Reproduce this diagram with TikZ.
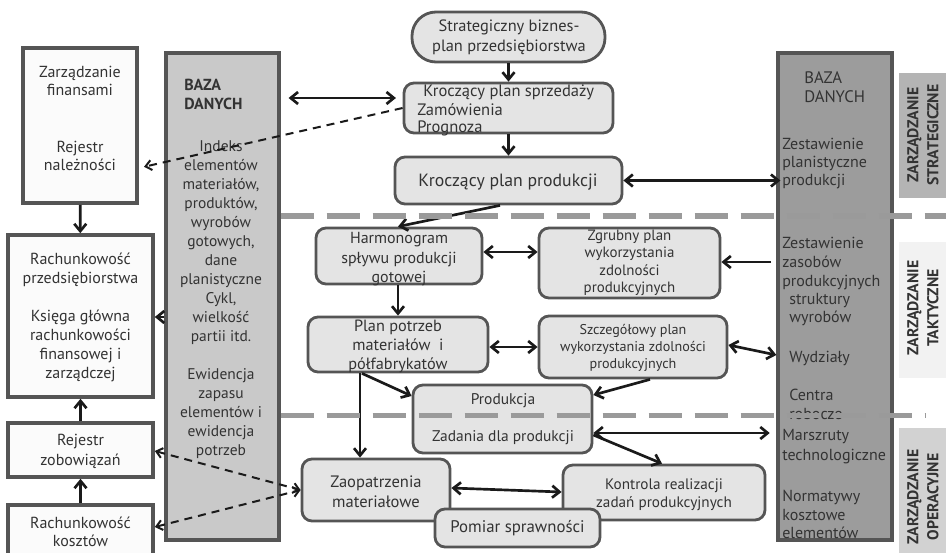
\documentclass[tikz,border=0pt]{standalone}
\usepackage{fontspec}
\setmainfont{PT Sans}
\usetikzlibrary{arrows.meta}
\definecolor{ink}{HTML}{333333}
\definecolor{edge}{HTML}{555555}
\definecolor{boxfill}{HTML}{E4E4E4}
\definecolor{paper}{HTML}{FBFBFB}
\definecolor{dbl}{HTML}{C9C9C9}
\definecolor{dbr}{HTML}{9C9C9C}
\definecolor{sep}{HTML}{9A9A9A}
\definecolor{lvlS}{HTML}{B4B4B4}
\definecolor{lvlT}{HTML}{F2F2F2}
\definecolor{lvlO}{HTML}{D2D2D2}
\definecolor{arrowink}{HTML}{1A1A1A}
\begin{document}
\begin{tikzpicture}[x=0.75pt,y=-0.75pt,
  sz/.style 2 args={minimum width=#1*0.75pt,minimum height=#2*0.75pt},
  fz/.style 2 args={font=\fontsize{#1}{#2}\selectfont},
  bfz/.style 2 args={font=\fontsize{#1}{#2}\selectfont\bfseries},
  cbox/.style={draw=edge,fill=boxfill,line width=2.1pt,rounded corners=7.5pt,inner sep=0pt},
  wbox/.style={draw=edge,fill=paper,line width=2.7pt,inner sep=0pt},
  dbase/.style={draw=edge,line width=2.4pt,inner sep=0pt},
  lvl/.style={inner sep=0pt},
  txt/.style={text=ink,inner sep=0pt,align=center},
  ltxt/.style={text=ink,inner sep=0pt,align=left,anchor=west},
  tip/.tip={Straight Barb[length=5.5pt,width=9pt]},
  dtip/.tip={Straight Barb[length=4.5pt,width=7.5pt]},
  arr/.style={draw=arrowink,line width=2pt,-tip},
  darr/.style={draw=arrowink,line width=2pt,tip-tip},
  dsh/.style={draw=arrowink,line width=1.5pt,dash pattern=on 6pt off 4.5pt},
  sepline/.style={draw=sep,line width=3.8pt,dash pattern=on 24.75pt off 9.75pt}]
\useasboundingbox (0,0) rectangle (946,553);
\fill[white] (0,0) rectangle (946,553);

% management level bands on the right
\node[lvl,fill=lvlS,sz={47}{125}] (lvS) at (922.5,135.5) {};
\node[lvl,fill=lvlT,sz={47}{136}] (lvT) at (922.5,310) {};
\node[lvl,fill=lvlO,sz={47}{128}] (lvO) at (922.5,492) {};
\node[txt,rotate=90,bfz={11.8pt}{15pt}] (lvSt) at (923,135) {ZARZĄDZANIE\\STRATEGICZNE};
\node[txt,rotate=90,bfz={11.8pt}{15pt}] (lvTt) at (923,308) {ZARZĄDZANIE\\TAKTYCZNE};
\node[txt,rotate=90,bfz={11.8pt}{15pt}] (lvOt) at (923,497) {ZARZĄDZANIE\\OPERACYJNE};

% accounting column
\node[wbox,sz={114}{155}] (fin) at (80,125.5) {};
\node[txt,fz={12pt}{13.5pt}] (finA) at (80,80.5) {Zarządzanie\\finansami};
\node[txt,fz={12pt}{13.5pt}] (finB) at (80,155.5) {Rejestr\\należności};
\node[wbox,sz={145}{162}] (rach) at (80.5,316) {};
\node[txt,fz={12pt}{14.25pt}] (racht) at (80.5,317) {Rachunkowość\\przedsiębiorstwa\\[14.25pt]Księga główna\\rachunkowości\\finansowej i\\zarządczej};
\node[wbox,sz={145}{54}] (rejz) at (80.5,450) {};
\node[txt,fz={12pt}{15pt}] (rejzt) at (80.5,451) {Rejestr\\zobowiązań};
\node[wbox,sz={145}{56}] (rachk) at (80.5,533) {};
\node[txt,fz={12pt}{13.5pt}] (rachkt) at (80.5,532) {Rachunkowość\\kosztów};

% databases
\node[dbase,fill=dbl,sz={113}{487}] (bazaL) at (222.5,296.5) {};
\node[ltxt,bfz={12pt}{14.25pt}] (bazaLh) at (184,94.5) {BAZA\\DANYCH};
\node[txt,fz={11.6pt}{14.25pt}] (bazaLt) at (221,300) {Indeks\\elementów\\materiałów,\\produktów,\\wyrobów\\gotowych,\\dane\\planistyczne\\Cykl,\\wielkość\\partii itd.\\[14.25pt]Ewidencja\\zapasu\\elementów i\\ewidencja\\potrzeb};

\node[dbase,fill=dbr,sz={114}{487}] (bazaR) at (835,296.5) {};
\node[ltxt,fz={12.5pt}{14.25pt}] (bazaRh) at (804,87.5) {BAZA\\DANYCH};
\node[ltxt,fz={12pt}{13.5pt}] (bazaR1) at (782,164) {Zestawienie\\planistyczne\\produkcji};
\node[ltxt,fz={12pt}{14.25pt}] (bazaR2) at (782,264) {Zestawienie\\zasobów\\produkcyjnych};
\node[ltxt,fz={12pt}{13.5pt}] (bazaR3) at (789,310) {struktury\\wyrobów};
\node[ltxt,fz={12pt}{14.25pt}] (bazaR4) at (789,358) {Wydziały};
\node[ltxt,fz={12pt}{14.25pt}] (bazaR5) at (789,404.5) {Centra\\robocze};
\node[ltxt,fz={12pt}{15pt}] (bazaR6) at (782,447) {Marszruty\\technologiczne};
\node[ltxt,fz={12pt}{13.875pt}] (bazaR7) at (782,514.5) {Normatywy\\kosztowe\\elementów};

% planning chain
\node[cbox,rounded corners=18pt,sz={193}{50}] (strat) at (508.5,37) {};
\node[txt,fz={12.3pt}{15pt}] (stratt) at (509,37) {Strategiczny biznes-\\plan przedsiębiorstwa};
\node[cbox,sz={209}{50}] (sprzed) at (508.5,108) {};
\node[ltxt,fz={12.4pt}{14pt}] (sprzedA) at (423,92) {Kroczący plan sprzedaży};
\node[ltxt,fz={12.4pt}{14pt}] (sprzedB) at (417,110) {Zamówienia};
\node[ltxt,fz={12.4pt}{14pt}] (sprzedC) at (417,128) {Prognoza};
\node[cbox,sz={227}{47}] (prod) at (508.5,180.5) {};
\node[txt,fz={13.3pt}{15pt}] (prodt) at (508,182) {Kroczący plan produkcji};

\node[cbox,sz={166}{56}] (harm) at (399,256) {};
\node[txt,fz={12pt}{14.6pt}] (harmt) at (399,259.5) {Harmonogram\\spływu produkcji\\gotowej};
\node[cbox,sz={181}{70}] (zgrub) at (629.5,263) {};
\node[txt,fz={11.2pt}{13pt}] (zgrubt) at (629.5,263) {Zgrubny plan\\wykorzystania\\zdolności\\produkcyjnych};
\node[cbox,sz={180}{55}] (plan) at (398,344.5) {};
\node[txt,fz={12.2pt}{14.25pt}] (plant) at (398,346) {Plan potrzeb\\materiałów~ i\\półfabrykatów};
\node[cbox,sz={188}{62}] (szcz) at (633,347) {};
\node[txt,fz={10.6pt}{12.75pt}] (szczt) at (633,348) {Szczegółowy plan\\wykorzystania zdolności\\produkcyjnych};
\node[cbox,sz={179}{68}] (prodk) at (502.5,419) {};
\node[txt,fz={11.6pt}{14pt}] (prodkA) at (503,401) {Produkcja};
\node[txt,fz={11.6pt}{14pt}] (prodkB) at (503,438) {Zadania dla produkcji};

\node[cbox,sz={148}{62}] (zaop) at (376,490) {};
\node[txt,fz={12.4pt}{15pt}] (zaopt) at (376,492) {Zaopatrzenia\\materiałowe};
\node[cbox,sz={202}{55}] (kontr) at (664,492.5) {};
\node[txt,fz={11.4pt}{13.5pt}] (kontrt) at (664,495) {Kontrola realizacji\\zadań produkcyjnych};
\node[cbox,sz={165}{38}] (pomiar) at (517.5,528) {};
\node[txt,fz={12.6pt}{14pt}] (pomiart) at (517.5,528) {Pomiar sprawności};

% flows
\draw[arr] (strat) -- (sprzed);
\draw[arr] (sprzed) -- (prod);
\draw[arr] (prod.south -| 500,0) -- (harm.north -| 398,0);
\draw[darr,shorten <=6pt,shorten >=5pt] (bazaL.east |- 0,98) -- (sprzed.west |- 0,98);
\draw[dsh,-dtip,shorten >=4pt] (sprzed.west |- 0,108) -- (fin.east |- 0,168);
\draw[darr,shorten >=-3pt] (prod.east) -- (bazaR.west |- prod.east);
\draw[darr] (harm.east |- 0,252) -- (zgrub.west |- 0,252);
\draw[arr,shorten <=4pt] (bazaR.west |- 0,262) -- (zgrub.east |- 0,262);
\draw[arr] (harm.south -| 398,0) -- (plan.north -| 398,0);
\draw[darr] (plan.east |- 0,347) -- (szcz.west |- 0,347);
\draw[darr] (szcz.east |- 0,345) -- (bazaR.west |- 0,355);
\draw[arr] (szcz.south -| 650,0) -- (prodk.east |- 0,395);
\draw[arr] (plan.south -| 362,0) -- (prodk.west |- 0,396);
\draw[arr] (plan.south -| 360,0) -- (zaop.north -| 360,0);
\draw[darr,shorten >=5pt] (prodk.east |- 0,433) -- (bazaR.west |- 0,433);
\draw[arr] (prodk.east |- 0,435) -- (kontr.north -| 662,0);
\draw[darr] (zaop.east |- 0,488) -- (kontr.west |- 0,492);
\draw[dsh,dtip-dtip] (rejz.east |- 0,451) -- (zaop.west);
\draw[dsh,dtip-dtip] (rachk.east |- 0,527) -- (zaop.west);
\draw[arr] (fin) -- (rach);
\draw[arr] (rejz) -- (rach);
\draw[arr] (rachk) -- (rejz);
\draw[arr] (bazaL.west |- 0,317) -- (rach.east |- 0,317);

% level separators
\draw[sepline] (bazaL.east |- 0,216) -- (946,216);
\draw[sepline] (bazaL.east |- 0,415.5) -- (926,415.5);
\end{tikzpicture}
\end{document}
